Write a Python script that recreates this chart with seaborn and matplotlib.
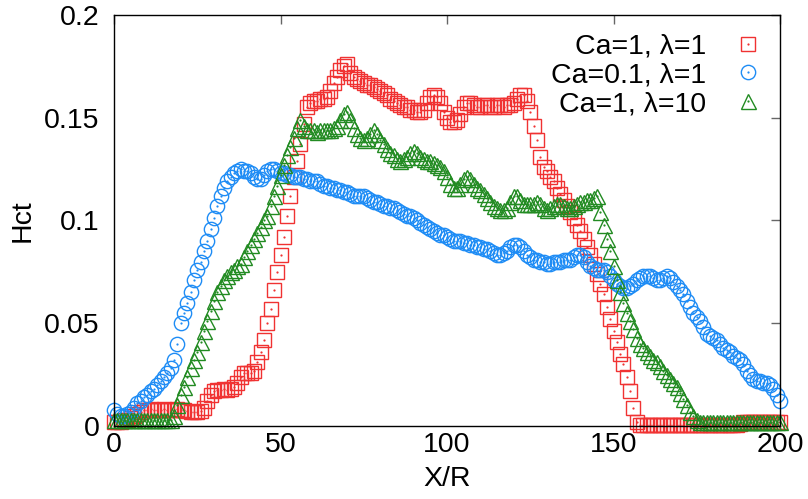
import matplotlib
matplotlib.use("Agg")
import matplotlib.pyplot as plt
from matplotlib.lines import Line2D
import seaborn as sns

# ---------------- data ----------------
x_vals = list(range(0, 201))

red_ca1_l1 = [
    0.002, 0.002, 0.002, 0.003, 0.003, 0.004, 0.005, 0.006, 0.007, 0.008,
    0.008, 0.0085, 0.008, 0.0078, 0.008, 0.0082, 0.008, 0.0079, 0.008, 0.0083,
    0.008, 0.0078, 0.0072, 0.0068, 0.0066, 0.0068, 0.0074, 0.009, 0.012, 0.015,
    0.017, 0.0175, 0.0175, 0.018, 0.0175, 0.018, 0.019, 0.021, 0.024, 0.026,
    0.026, 0.026, 0.027, 0.031, 0.036, 0.042, 0.050, 0.057, 0.066, 0.075,
    0.083, 0.092, 0.102, 0.112, 0.121, 0.129, 0.137, 0.147, 0.155, 0.157,
    0.158, 0.158, 0.159, 0.159, 0.160, 0.163, 0.167, 0.170, 0.173, 0.175,
    0.176, 0.172, 0.170, 0.169, 0.168, 0.167, 0.166, 0.166, 0.165, 0.164,
    0.163, 0.162, 0.161, 0.159, 0.158, 0.157, 0.156, 0.155, 0.155, 0.154,
    0.154, 0.153, 0.153, 0.154, 0.157, 0.160, 0.161, 0.160, 0.157, 0.153,
    0.150, 0.148, 0.148, 0.149, 0.152, 0.155, 0.157, 0.157, 0.156, 0.155,
    0.155, 0.156, 0.156, 0.155, 0.155, 0.156, 0.156, 0.155, 0.156, 0.156,
    0.157, 0.159, 0.161, 0.161, 0.158, 0.153, 0.146, 0.139, 0.131, 0.126,
    0.124, 0.121, 0.119, 0.116, 0.113, 0.110, 0.107, 0.104, 0.101, 0.098,
    0.095, 0.091, 0.087, 0.083, 0.079, 0.074, 0.069, 0.064, 0.058, 0.052,
    0.046, 0.041, 0.035, 0.030, 0.024, 0.017, 0.009, 0.002, 0.0005, 0.0005,
    0.0005, 0.0005, 0.0005, 0.0005, 0.0005, 0.0005, 0.0005, 0.0005, 0.0005, 0.0005,
    0.0005, 0.0005, 0.0005, 0.0005, 0.0005, 0.0005, 0.0005, 0.0005, 0.0005, 0.0005,
    0.0005, 0.0005, 0.0005, 0.0005, 0.0005, 0.0005, 0.0005, 0.0005, 0.001, 0.002,
    0.002, 0.002, 0.002, 0.002, 0.002, 0.002, 0.002, 0.002, 0.002, 0.002,
    0.002,
]

blue_ca01_l1 = [
    0.008, 0.006, 0.005, 0.005, 0.006, 0.007, 0.009, 0.011, 0.012, 0.014,
    0.015, 0.017, 0.018, 0.020, 0.022, 0.024, 0.026, 0.028, 0.032, 0.040,
    0.050, 0.055, 0.060, 0.065, 0.071, 0.076, 0.080, 0.085, 0.090, 0.096,
    0.101, 0.107, 0.112, 0.116, 0.119, 0.121, 0.123, 0.124, 0.125, 0.124,
    0.124, 0.123, 0.121, 0.120, 0.120, 0.122, 0.124, 0.125, 0.125, 0.124,
    0.123, 0.123, 0.122, 0.122, 0.121, 0.121, 0.121, 0.120, 0.120, 0.119,
    0.119, 0.119, 0.118, 0.117, 0.117, 0.116, 0.116, 0.115, 0.115, 0.114,
    0.114, 0.113, 0.112, 0.112, 0.112, 0.112, 0.111, 0.110, 0.109, 0.109,
    0.108, 0.107, 0.107, 0.106, 0.106, 0.105, 0.104, 0.103, 0.102, 0.102,
    0.101, 0.100, 0.099, 0.098, 0.097, 0.096, 0.095, 0.094, 0.093, 0.093,
    0.092, 0.091, 0.090, 0.090, 0.090, 0.089, 0.089, 0.088, 0.088, 0.087,
    0.087, 0.086, 0.086, 0.085, 0.084, 0.083, 0.083, 0.084, 0.085, 0.087,
    0.088, 0.088, 0.087, 0.085, 0.083, 0.082, 0.081, 0.081, 0.080, 0.080,
    0.079, 0.079, 0.080, 0.080, 0.080, 0.081, 0.081, 0.081, 0.082, 0.083,
    0.083, 0.082, 0.080, 0.078, 0.077, 0.076, 0.076, 0.076, 0.075, 0.073,
    0.071, 0.069, 0.068, 0.067, 0.067, 0.068, 0.069, 0.071, 0.072, 0.073,
    0.073, 0.073, 0.072, 0.071, 0.071, 0.072, 0.073, 0.072, 0.070, 0.068,
    0.066, 0.064, 0.061, 0.058, 0.055, 0.053, 0.051, 0.048, 0.045, 0.044,
    0.043, 0.042, 0.040, 0.038, 0.037, 0.036, 0.034, 0.033, 0.032, 0.030,
    0.027, 0.025, 0.023, 0.022, 0.022, 0.021, 0.021, 0.020, 0.018, 0.015,
    0.012,
]

green_ca1_l10 = [
    0.003, 0.003, 0.003, 0.003, 0.003, 0.003, 0.003, 0.003, 0.003, 0.003,
    0.003, 0.003, 0.003, 0.003, 0.003, 0.003, 0.003, 0.003, 0.005, 0.010,
    0.015, 0.019, 0.024, 0.028, 0.032, 0.036, 0.041, 0.046, 0.051, 0.056,
    0.061, 0.065, 0.068, 0.071, 0.073, 0.075, 0.076, 0.078, 0.079, 0.082,
    0.085, 0.088, 0.091, 0.094, 0.097, 0.100, 0.102, 0.107, 0.112, 0.117,
    0.122, 0.127, 0.132, 0.136, 0.140, 0.145, 0.149, 0.146, 0.144, 0.144,
    0.144, 0.143, 0.144, 0.144, 0.144, 0.144, 0.145, 0.146, 0.149, 0.152,
    0.153, 0.149, 0.145, 0.142, 0.140, 0.139, 0.140, 0.142, 0.144, 0.142,
    0.139, 0.137, 0.135, 0.133, 0.132, 0.130, 0.129, 0.130, 0.131, 0.133,
    0.134, 0.133, 0.131, 0.130, 0.129, 0.129, 0.128, 0.127, 0.126, 0.124,
    0.121, 0.118, 0.116, 0.116, 0.118, 0.120, 0.121, 0.120, 0.118, 0.116,
    0.115, 0.113, 0.111, 0.109, 0.107, 0.106, 0.105, 0.105, 0.106, 0.109,
    0.112, 0.112, 0.110, 0.108, 0.108, 0.108, 0.108, 0.109, 0.108, 0.106,
    0.105, 0.106, 0.107, 0.108, 0.108, 0.107, 0.106, 0.106, 0.107, 0.108,
    0.109, 0.109, 0.110, 0.110, 0.111, 0.112, 0.104, 0.098, 0.091, 0.085,
    0.078, 0.071, 0.065, 0.060, 0.055, 0.051, 0.047, 0.043, 0.040, 0.038,
    0.036, 0.034, 0.032, 0.031, 0.029, 0.027, 0.025, 0.023, 0.021, 0.019,
    0.016, 0.013, 0.010, 0.007, 0.005, 0.003, 0.002, 0.002, 0.002, 0.002,
    0.002, 0.002, 0.002, 0.002, 0.002, 0.002, 0.002, 0.002, 0.002, 0.002,
    0.002, 0.002, 0.002, 0.002, 0.002, 0.002, 0.002, 0.002, 0.002, 0.002,
    0.002,
]

series_labels = ["Ca=1, \u03bb=1", "Ca=0.1, \u03bb=1", "Ca=1, \u03bb=10"]
x_ticks = [0, 50, 100, 150, 200]
x_tick_labels = ["0", "50", "100", "150", "200"]
y_ticks = [0, 0.05, 0.1, 0.15, 0.2]
y_tick_labels = ["0", "0.05", "0.1", "0.15", "0.2"]
x_label = "X/R"
y_label = "Hct"

# ---------------- style ----------------
sns.set_theme(style="white")
plt.rcParams["font.family"] = ["Liberation Sans", "DejaVu Sans"]
FS = 20.5

colors = ["#F03232", "#1E8CF5", "#228B22"]
markers = ["s", "o", "^"]
msizes = [10.3, 10.3, 10.8]
MEW = 1.0
series = [red_ca1_l1, blue_ca01_l1, green_ca1_l10]

fig = plt.figure(figsize=(8.08, 4.99), dpi=100)
ax = fig.add_axes([114 / 808, 73 / 499, 666 / 808, 411 / 499])

for yv, c, m, ms in zip(series, colors, markers, msizes):
    sns.lineplot(x=x_vals, y=yv, ax=ax, estimator=None, sort=False, legend=False,
                 linestyle="", marker=m, markersize=ms, markerfacecolor="none",
                 markeredgecolor=c, markeredgewidth=MEW, color=c, clip_on=False)
    sns.lineplot(x=x_vals, y=yv, ax=ax, estimator=None, sort=False, legend=False,
                 linestyle="", marker="o", markersize=1.6, markerfacecolor=c,
                 markeredgecolor=c, markeredgewidth=0, color=c, clip_on=False)

ax.set_xlim(0, 200)
ax.set_ylim(0, 0.2)
ax.set_xticks(x_ticks)
ax.set_xticklabels(x_tick_labels)
ax.set_yticks(y_ticks)
ax.set_yticklabels(y_tick_labels)
ax.tick_params(axis="both", direction="in", length=6.5, width=1.0, color="0.4",
               top=True, right=True, labelsize=FS, labelcolor="black")
ax.tick_params(axis="x", pad=4.5)
ax.tick_params(axis="y", pad=10.5)
for sp in ax.spines.values():
    sp.set_color("black")
    sp.set_linewidth(1.0)
    sp.set_zorder(5)

ax.set_xlabel(x_label, fontsize=FS, color="black")
ax.set_ylabel(y_label, fontsize=FS, color="black")
ax.xaxis.label.set_va("center")
ax.yaxis.label.set_va("center")
ax.xaxis.set_label_coords(0.5, (426 - 479) / 411)
ax.yaxis.set_label_coords((23 - 114) / 666, 0.5)

handles = []
for c, m, ms in zip(colors, markers, msizes):
    h1 = Line2D([], [], linestyle="", marker=m, markersize=ms, markerfacecolor="none",
                markeredgecolor=c, markeredgewidth=MEW)
    h2 = Line2D([], [], linestyle="", marker="o", markersize=1.6, markerfacecolor=c,
                markeredgecolor=c, markeredgewidth=0)
    handles.append((h1, h2))
leg = ax.legend(handles, series_labels, loc="upper right", frameon=False, markerfirst=False,
                fontsize=FS, handlelength=0.95, handletextpad=1.0, borderaxespad=0.35,
                borderpad=0.3, labelspacing=0.1)
for t in leg.get_texts():
    t.set_color("black")

fig.savefig("out.png", dpi=100)
